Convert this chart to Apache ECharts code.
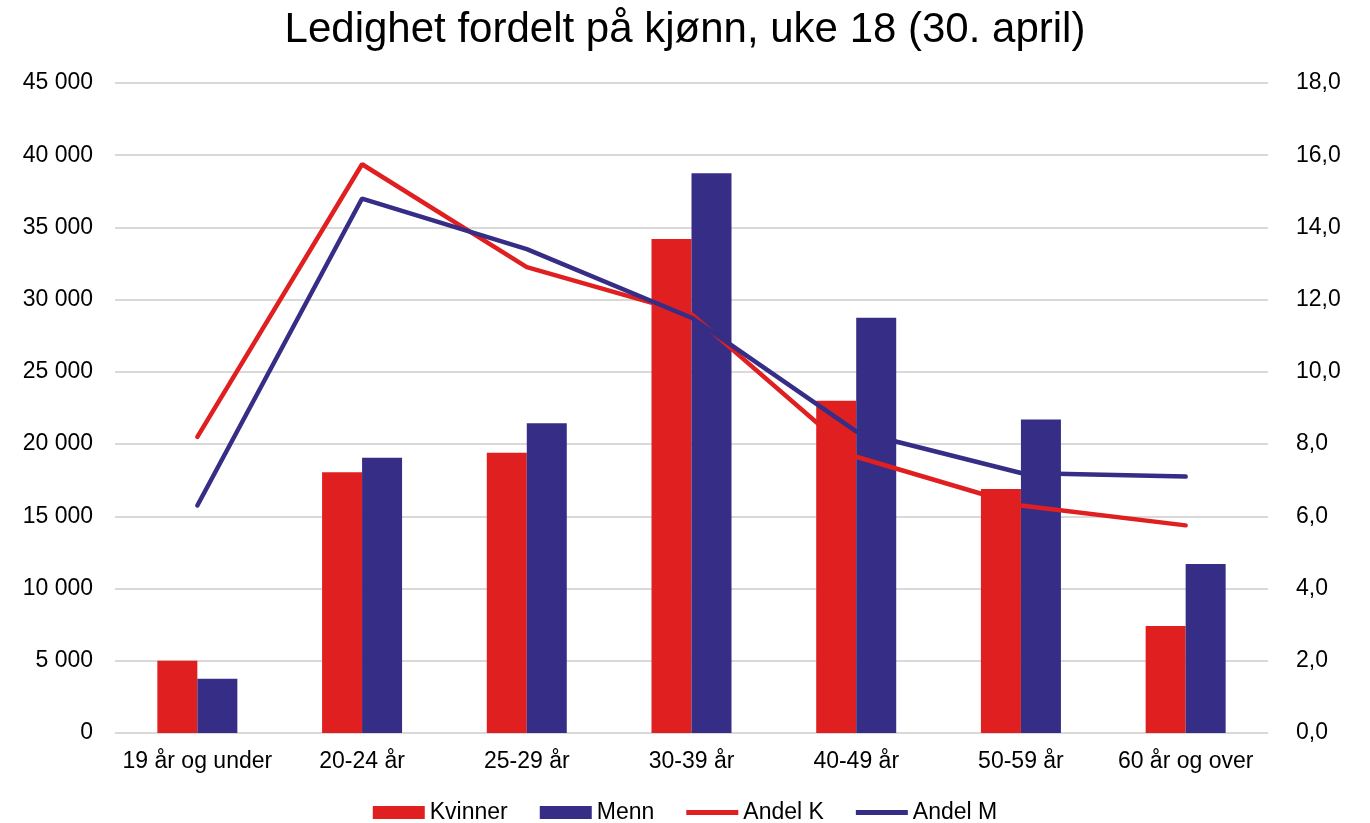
<!DOCTYPE html>
<html>
<head>
<meta charset="utf-8">
<script src="https://cdn.jsdelivr.net/npm/echarts@6/dist/echarts.min.js"></script>
<style>
  html, body { margin: 0; padding: 0; background: #fff; }
  #chart { width: 1370px; height: 823px; }
</style>
</head>
<body>
<div id="chart"></div>
<script>
const categories = ["19 år og under", "20-24 år", "25-29 år", "30-39 år", "40-49 år", "50-59 år", "60 år og over"];
const kvinner = [5000, 18050, 19400, 34200, 23000, 16900, 7400];
const menn = [3750, 19050, 21450, 38750, 28750, 21700, 11700];
const andelK = [8.2, 15.75, 12.9, 11.6, 7.65, 6.3, 5.75];
const andelM = [6.3, 14.8, 13.4, 11.5, 8.35, 7.2, 7.1];

const RED = "#e02020";
const BLUE = "#362d86";
const FONT = "Liberation Sans, Arial, sans-serif";

const chart = echarts.init(document.getElementById("chart"));

function fmtThousands(v) {
    return String(v).replace(/\B(?=(\d{3})+(?!\d))/g, " ");
}

const lineIcon = "path://M0,0 L52,0 L52,5 L0,5 Z";

chart.setOption({
    animation: false,
    textStyle: { fontFamily: FONT },
    title: {
        text: "Ledighet fordelt på kjønn, uke 18 (30. april)",
        left: "center",
        top: 4,
        textStyle: { fontSize: 42, fontWeight: "normal", color: "#000", fontFamily: FONT }
    },
    legend: {
        bottom: -6,
        left: "center",
        itemWidth: 52,
        itemHeight: 13,
        itemGap: 32,
        textStyle: { fontSize: 23, color: "#000", fontFamily: FONT },
        data: [
            { name: "Kvinner", icon: "rect" },
            { name: "Menn", icon: "rect" },
            { name: "Andel K", icon: lineIcon, itemStyle: { color: RED } },
            { name: "Andel M", icon: lineIcon, itemStyle: { color: BLUE } }
        ]
    },
    grid: { left: 115, right: 102, top: 83, bottom: 90, containLabel: false },
    xAxis: {
        type: "category",
        data: categories,
        axisLine: { show: true, lineStyle: { color: "#d9d9d9", width: 1 } },
        axisTick: { show: false },
        axisLabel: { interval: 0, fontSize: 23, color: "#000", margin: 17, fontFamily: FONT }
    },
    yAxis: [
        {
            type: "value",
            min: 0,
            max: 45000,
            interval: 5000,
            axisLine: { show: false },
            axisTick: { show: false },
            splitLine: { lineStyle: { color: "#d9d9d9", width: 2 } },
            axisLabel: { fontSize: 23, color: "#000", margin: 22, fontFamily: FONT, formatter: fmtThousands }
        },
        {
            type: "value",
            min: 0,
            max: 18,
            interval: 2,
            axisLine: { show: false },
            axisTick: { show: false },
            splitLine: { show: false },
            axisLabel: {
                fontSize: 23, color: "#000", margin: 28, fontFamily: FONT,
                formatter: v => v.toFixed(1).replace(".", ",")
            }
        }
    ],
    series: [
        {
            name: "Kvinner",
            type: "bar",
            data: kvinner,
            barWidth: 40,
            barGap: "0%",
            itemStyle: { color: RED }
        },
        {
            name: "Menn",
            type: "bar",
            data: menn,
            barWidth: 40,
            barGap: "0%",
            itemStyle: { color: BLUE }
        },
        {
            name: "Andel K",
            type: "line",
            yAxisIndex: 1,
            data: andelK,
            symbol: "none",
            lineStyle: { color: RED, width: 4.5, cap: "round" },
            itemStyle: { color: RED }
        },
        {
            name: "Andel M",
            type: "line",
            yAxisIndex: 1,
            data: andelM,
            symbol: "none",
            lineStyle: { color: BLUE, width: 4.5, cap: "round" },
            itemStyle: { color: BLUE }
        }
    ]
});
</script>
</body>
</html>
